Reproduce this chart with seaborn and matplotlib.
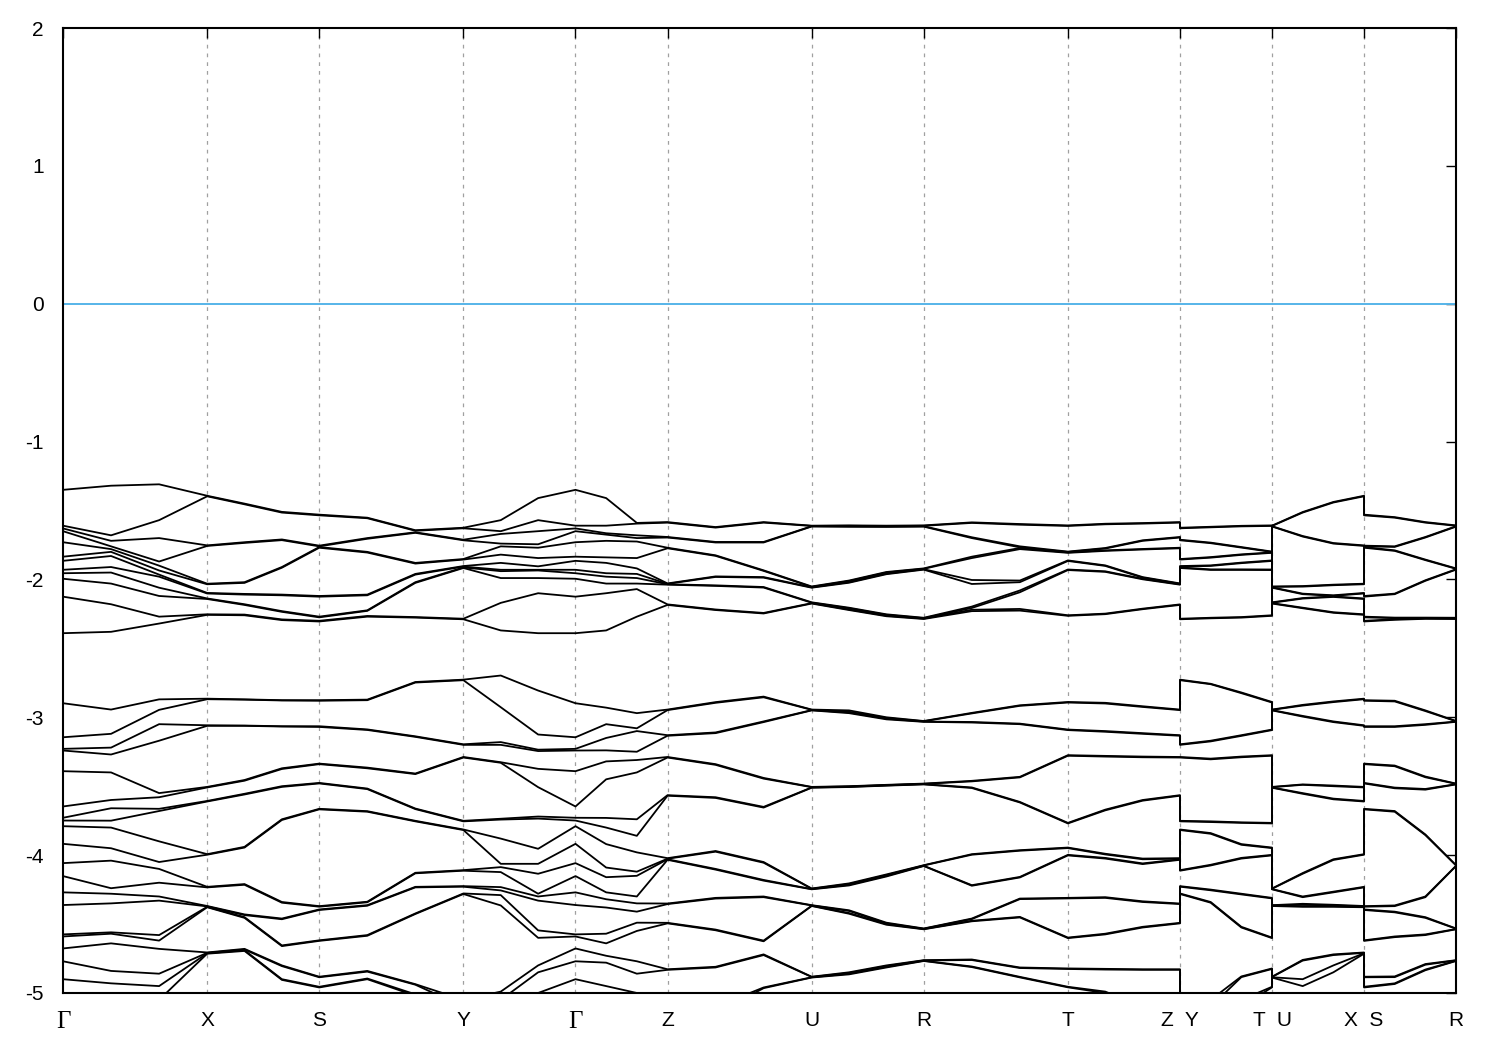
import numpy as np
import pandas as pd
import seaborn as sns
import matplotlib.pyplot as plt

# half lengths of the three reciprocal vectors (units of the k axis)
b1, b2, b3 = 1.034, 0.804, 0.660

# k-path: start point, end point, name of the interior columns, length
path = [("Γ", "X", "GX", b1), ("X", "S", "XS", b2), ("S", "Y", "SY", b1),
        ("Y", "Γ", "YG", b2), ("Γ", "Z", "GZ", b3), ("Z", "U", "ZU", b1),
        ("U", "R", "UR", b2), ("R", "T", "RT", b1), ("T", "Z", "TZ", b2),
        ("Y", "T", "YT", b3), ("U", "X", "UX", b3), ("S", "R", "SR", b3)]

# ---- upper band group (12 bands), energies in eV, sorted high -> low ----
G_up = [-1.35, -1.61, -1.63, -1.65, -1.73, -1.835, -1.865, -1.93, -1.955, -1.995, -2.125, -2.39]
X_up = [-1.393, -1.397, -1.753, -1.757, -2.031, -2.035, -2.098, -2.102, -2.138, -2.142, -2.253, -2.257]
S_up = [-1.53, -1.535, -1.755, -1.76, -1.765, -1.77, -2.12, -2.125, -2.27, -2.275, -2.30, -2.305]
Y_up = [-1.625, -1.629, -1.712, -1.716, -1.852, -1.856, -1.903, -1.907, -1.913, -1.917, -2.285, -2.289]
Z_up = [-1.584, -1.588, -1.692, -1.696, -1.77, -1.774, -2.029, -2.032, -2.035, -2.038, -2.181, -2.185]
U_up = [-1.61, -1.612, -1.614, -1.616, -2.051, -2.054, -2.057, -2.06, -2.166, -2.169, -2.172, -2.175]
R_up = [-1.608, -1.611, -1.614, -1.617, -1.92, -1.923, -1.926, -1.929, -2.278, -2.281, -2.284, -2.287]
T_up = [-1.608, -1.612, -1.798, -1.801, -1.804, -1.807, -1.862, -1.866, -1.928, -1.932, -2.26, -2.264]

GX_up = [[-1.32, -1.68, -1.72, -1.76, -1.78, -1.80, -1.83, -1.91, -1.95, -2.03, -2.18, -2.38],
         [-1.31, -1.57, -1.70, -1.87, -1.90, -1.935, -1.965, -1.98, -2.06, -2.12, -2.27, -2.32]]
XS_up = [[-1.45, -1.455, -1.73, -1.735, -2.02, -2.025, -2.105, -2.11, -2.18, -2.185, -2.255, -2.26],
         [-1.51, -1.515, -1.71, -1.715, -1.91, -1.915, -2.11, -2.115, -2.23, -2.235, -2.29, -2.295]]
SY_up = [[-1.552, -1.556, -1.70, -1.705, -1.80, -1.805, -2.11, -2.115, -2.224, -2.228, -2.265, -2.27],
         [-1.643, -1.647, -1.658, -1.662, -1.88, -1.885, -1.96, -1.965, -2.02, -2.025, -2.273, -2.277]]
YG_up = [[-1.57, -1.65, -1.67, -1.74, -1.76, -1.82, -1.88, -1.93, -1.94, -1.99, -2.17, -2.37],
         [-1.41, -1.57, -1.65, -1.745, -1.77, -1.845, -1.905, -1.93, -1.935, -1.99, -2.10, -2.39]]
GZ_up = [[-1.41, -1.61, -1.665, -1.675, -1.72, -1.84, -1.88, -1.955, -1.98, -2.03, -2.10, -2.37],
         [-1.59, -1.595, -1.68, -1.70, -1.725, -1.845, -1.92, -1.96, -1.99, -2.03, -2.07, -2.27]]
ZU_up = [[-1.62, -1.624, -1.728, -1.732, -1.825, -1.829, -1.978, -1.982, -2.043, -2.047, -2.218, -2.222],
         [-1.584, -1.588, -1.728, -1.732, -1.934, -1.938, -1.983, -1.987, -2.055, -2.059, -2.243, -2.247]]
UR_up = [[-1.608, -1.611, -1.615, -1.618, -2.008, -2.012, -2.02, -2.024, -2.205, -2.209, -2.218, -2.222],
         [-1.61, -1.613, -1.616, -1.619, -1.946, -1.95, -1.958, -1.962, -2.253, -2.257, -2.263, -2.267]]
RT_up = [[-1.586, -1.59, -1.694, -1.70, -1.835, -1.845, -2.004, -2.033, -2.197, -2.207, -2.22, -2.23],
         [-1.598, -1.603, -1.76, -1.767, -1.772, -1.78, -2.008, -2.02, -2.08, -2.093, -2.214, -2.226]]
TZ_up = [[-1.596, -1.6, -1.772, -1.776, -1.789, -1.793, -1.898, -1.902, -1.941, -1.945, -2.248, -2.252],
         [-1.591, -1.595, -1.716, -1.72, -1.779, -1.783, -1.983, -1.987, -1.995, -1.999, -2.212, -2.216]]
YT_up = [[-1.618, -1.622, -1.733, -1.737, -1.838, -1.842, -1.898, -1.902, -1.927, -1.931, -2.278, -2.282],
         [-1.611, -1.615, -1.765, -1.769, -1.818, -1.822, -1.878, -1.882, -1.927, -1.931, -2.273, -2.277]]
UX_up = [[-1.511, -1.515, -1.685, -1.689, -2.048, -2.052, -2.103, -2.107, -2.135, -2.139, -2.205, -2.209],
         [-1.438, -1.442, -1.736, -1.74, -2.038, -2.042, -2.115, -2.119, -2.123, -2.127, -2.238, -2.242]]
SR_up = [[-1.548, -1.552, -1.76, -1.764, -1.789, -1.793, -2.103, -2.107, -2.277, -2.281, -2.289, -2.293],
         [-1.584, -1.588, -1.692, -1.696, -1.856, -1.86, -2.006, -2.01, -2.277, -2.281, -2.282, -2.286]]

# ---- lower band group (22 bands, the last ones run below the frame) ----
G_lo = [-2.898, -3.145, -3.229, -3.241, -3.391, -3.647, -3.729, -3.749, -3.79, -3.918, -4.058,
        -4.152, -4.27, -4.362, -4.575, -4.59, -4.677, -4.77, -4.90, -5.10, -5.20, -5.30]
X_lo = [-2.865, -2.869, -3.058, -3.062, -3.505, -3.509, -3.607, -3.611, -3.993, -3.997, -4.23,
        -4.234, -4.369, -4.372, -4.375, -4.378, -4.706, -4.709, -4.712, -4.715, -5.2, -5.3]
S_lo = [-2.876, -2.88, -3.065, -3.07, -3.336, -3.34, -3.476, -3.48, -3.664, -3.668, -4.37,
        -4.374, -4.394, -4.398, -4.618, -4.622, -4.882, -4.886, -4.955, -4.96, -5.2, -5.3]
Y_lo = [-2.727, -2.731, -3.196, -3.2, -3.288, -3.292, -3.751, -3.755, -3.814, -3.818, -4.109,
        -4.113, -4.225, -4.229, -4.278, -4.282, -5.05, -5.1, -5.15, -5.2, -5.25, -5.3]
Z_lo = [-2.944, -2.948, -3.13, -3.134, -3.288, -3.292, -3.565, -3.569, -4.022, -4.026, -4.03,
        -4.034, -4.351, -4.355, -4.491, -4.495, -4.828, -4.832, -5.1, -5.2, -5.25, -5.3]
U_lo = [-2.944, -2.946, -2.948, -2.95, -3.505, -3.507, -3.509, -3.511, -4.242, -4.244, -4.246,
        -4.248, -4.363, -4.365, -4.367, -4.369, -4.882, -4.884, -4.886, -4.888, -5.2, -5.3]
R_lo = [-3.027, -3.029, -3.031, -3.033, -3.481, -3.483, -3.485, -3.487, -4.073, -4.075, -4.077,
        -4.079, -4.532, -4.534, -4.536, -4.538, -4.762, -4.764, -4.766, -4.768, -5.2, -5.3]
T_lo = [-2.889, -2.893, -3.089, -3.093, -3.275, -3.279, -3.766, -3.77, -3.945, -3.949, -3.998,
        -4.002, -4.31, -4.314, -4.598, -4.602, -4.822, -4.826, -4.955, -4.959, -5.2, -5.3]

GX_lo = [[-2.944, -3.12, -3.22, -3.27, -3.40, -3.60, -3.66, -3.75, -3.80, -3.95, -4.04,
          -4.24, -4.28, -4.35, -4.56, -4.57, -4.64, -4.84, -4.93, -5.10, -5.20, -5.30],
         [-2.87, -2.946, -3.05, -3.17, -3.55, -3.58, -3.664, -3.68, -3.90, -4.05, -4.10,
          -4.20, -4.30, -4.33, -4.58, -4.62, -4.68, -4.86, -4.95, -5.05, -5.22, -5.32]]
XS_lo = [[-2.87, -2.872, -3.06, -3.062, -3.455, -3.46, -3.555, -3.56, -3.94, -3.945, -4.21,
          -4.215, -4.43, -4.435, -4.45, -4.455, -4.68, -4.685, -4.69, -4.695, -5.2, -5.3],
         [-2.876, -2.878, -3.065, -3.067, -3.37, -3.375, -3.50, -3.505, -3.74, -3.745, -4.34,
          -4.345, -4.46, -4.465, -4.655, -4.66, -4.80, -4.805, -4.90, -4.905, -5.2, -5.3]]
SY_lo = [[-2.872, -2.876, -3.088, -3.092, -3.365, -3.37, -3.517, -3.521, -3.681, -3.685, -4.338,
          -4.342, -4.363, -4.367, -4.58, -4.585, -4.84, -4.845, -4.895, -4.9, -5.2, -5.3],
         [-2.744, -2.748, -3.138, -3.142, -3.408, -3.412, -3.662, -3.666, -3.751, -3.755, -4.128,
          -4.132, -4.23, -4.234, -4.423, -4.427, -4.936, -4.94, -5.01, -5.02, -5.2, -5.3]]
YG_lo = [[-2.697, -2.927, -3.18, -3.2, -3.326, -3.33, -3.736, -3.742, -3.88, -4.063, -4.087,
          -4.123, -4.232, -4.256, -4.29, -4.365, -4.99, -5.05, -5.1, -5.2, -5.25, -5.3],
         [-2.806, -3.125, -3.235, -3.245, -3.374, -3.507, -3.72, -3.735, -3.954, -4.063, -4.135,
          -4.28, -4.30, -4.33, -4.546, -4.60, -4.80, -4.85, -5.0, -5.1, -5.2, -5.3]]
GZ_lo = [[-2.93, -3.05, -3.15, -3.24, -3.32, -3.45, -3.73, -3.80, -3.92, -4.09, -4.16,
          -4.27, -4.32, -4.38, -4.57, -4.64, -4.73, -4.78, -4.95, -5.1, -5.2, -5.3],
         [-2.97, -3.08, -3.10, -3.25, -3.31, -3.40, -3.74, -3.86, -3.98, -4.12, -4.15,
          -4.30, -4.35, -4.41, -4.49, -4.55, -4.77, -4.86, -5.0, -5.1, -5.2, -5.3]]
ZU_lo = [[-2.89, -2.895, -3.11, -3.115, -3.34, -3.345, -3.58, -3.585, -3.97, -3.975, -4.10,
          -4.105, -4.31, -4.315, -4.54, -4.545, -4.81, -4.815, -5.1, -5.15, -5.2, -5.3],
         [-2.85, -2.855, -3.03, -3.035, -3.44, -3.445, -3.65, -3.655, -4.05, -4.055, -4.18,
          -4.185, -4.30, -4.305, -4.62, -4.625, -4.72, -4.725, -4.96, -4.965, -5.2, -5.3]]
UR_lo = [[-2.95, -2.96, -2.965, -2.97, -3.50, -3.502, -3.504, -3.506, -4.205, -4.21, -4.215,
          -4.22, -4.40, -4.405, -4.42, -4.425, -4.85, -4.855, -4.86, -4.865, -5.2, -5.3],
         [-3.00, -3.005, -3.01, -3.015, -3.49, -3.492, -3.494, -3.496, -4.14, -4.145, -4.15,
          -4.155, -4.49, -4.495, -4.50, -4.505, -4.80, -4.805, -4.81, -4.815, -5.2, -5.3]]
RT_lo = [[-2.968, -2.972, -3.034, -3.038, -3.461, -3.465, -3.509, -3.513, -3.993, -3.997, -4.218,
          -4.222, -4.46, -4.464, -4.476, -4.48, -4.757, -4.761, -4.808, -4.812, -5.2, -5.3],
         [-2.913, -2.917, -3.046, -3.05, -3.432, -3.436, -3.614, -3.618, -3.964, -3.968, -4.158,
          -4.162, -4.315, -4.319, -4.448, -4.452, -4.815, -4.819, -4.883, -4.887, -5.2, -5.3]]
TZ_lo = [[-2.895, -2.9, -3.1, -3.105, -3.28, -3.285, -3.67, -3.675, -3.99, -3.995, -4.02,
          -4.025, -4.305, -4.31, -4.57, -4.575, -4.825, -4.83, -4.99, -5.0, -5.2, -5.3],
         [-2.92, -2.925, -3.115, -3.12, -3.285, -3.29, -3.60, -3.605, -4.025, -4.03, -4.06,
          -4.065, -4.335, -4.34, -4.52, -4.525, -4.828, -4.832, -5.1, -5.15, -5.2, -5.3]]
YT_lo = [[-2.757, -2.76, -3.17, -3.175, -3.3, -3.305, -3.755, -3.76, -3.84, -3.845, -4.07,
          -4.075, -4.25, -4.255, -4.34, -4.345, -5.05, -5.1, -5.15, -5.2, -5.25, -5.3],
         [-2.82, -2.825, -3.13, -3.135, -3.285, -3.29, -3.762, -3.766, -3.92, -3.925, -4.02,
          -4.025, -4.28, -4.285, -4.52, -4.525, -4.88, -4.885, -5.05, -5.1, -5.2, -5.3]]
UX_lo = [[-2.91, -2.915, -2.99, -2.995, -3.487, -3.49, -3.55, -3.555, -4.13, -4.135, -4.30,
          -4.305, -4.353, -4.36, -4.37, -4.375, -4.76, -4.765, -4.90, -4.95, -5.2, -5.3],
         [-2.885, -2.89, -3.03, -3.035, -3.495, -3.5, -3.59, -3.595, -4.03, -4.035, -4.265,
          -4.27, -4.36, -4.365, -4.37, -4.375, -4.72, -4.725, -4.80, -4.85, -5.2, -5.3]]
SR_lo = [[-2.88, -2.885, -3.065, -3.07, -3.35, -3.355, -3.51, -3.515, -3.68, -3.685, -4.365,
          -4.37, -4.41, -4.415, -4.59, -4.595, -4.88, -4.885, -4.93, -4.935, -5.2, -5.3],
         [-2.95, -2.955, -3.05, -3.055, -3.43, -3.435, -3.52, -3.525, -3.85, -3.855, -4.30,
          -4.305, -4.45, -4.455, -4.575, -4.58, -4.79, -4.795, -4.83, -4.835, -5.2, -5.3]]

up_pts = {"Γ": G_up, "X": X_up, "S": S_up, "Y": Y_up, "Z": Z_up, "U": U_up, "R": R_up, "T": T_up}
lo_pts = {"Γ": G_lo, "X": X_lo, "S": S_lo, "Y": Y_lo, "Z": Z_lo, "U": U_lo, "R": R_lo, "T": T_lo}
up_mid = {"GX": GX_up, "XS": XS_up, "SY": SY_up, "YG": YG_up, "GZ": GZ_up, "ZU": ZU_up,
          "UR": UR_up, "RT": RT_up, "TZ": TZ_up, "YT": YT_up, "UX": UX_up, "SR": SR_up}
lo_mid = {"GX": GX_lo, "XS": XS_lo, "SY": SY_lo, "YG": YG_lo, "GZ": GZ_lo, "ZU": ZU_lo,
          "UR": UR_lo, "RT": RT_lo, "TZ": TZ_lo, "YT": YT_lo, "UX": UX_lo, "SR": SR_lo}

# assemble the columns along the path (a break repeats k -> vertical jump)
ks, cols_up, cols_lo = [], [], []
tick_k, tick_lab = [], []
k, prev = 0.0, None
for start, end, name, L in path:
    if start != prev:
        if prev is None:
            tick_k.append(k); tick_lab.append(start)
        else:
            tick_lab[-1] = prev + "  " + start
        ks.append(k); cols_up.append(up_pts[start]); cols_lo.append(lo_pts[start])
    n = len(up_mid[name])
    for j in range(n):
        ks.append(k + (j + 1) / (n + 1) * L)
        cols_up.append(up_mid[name][j]); cols_lo.append(lo_mid[name][j])
    k += L
    ks.append(k); cols_up.append(up_pts[end]); cols_lo.append(lo_pts[end])
    tick_k.append(k); tick_lab.append(end)
    prev = end

rows = []
for grp, cols in (("u", cols_up), ("l", cols_lo)):
    arr = np.array(cols)
    for b in range(arr.shape[1]):
        for kk, e in zip(ks, arr[:, b]):
            rows.append((kk, e, f"{grp}{b}"))
df = pd.DataFrame(rows, columns=["k", "E", "band"])

sns.set_theme(style="white")
plt.rcParams["font.family"] = ["Liberation Sans", "DejaVu Sans"]
plt.rcParams["axes.unicode_minus"] = False

fig = plt.figure(figsize=(15, 10.5), dpi=100)
ax = fig.add_axes([0.042, 0.0543, 0.9287, 0.919])

for kt in tick_k[1:-1]:
    ax.axvline(kt, color="#a0a0a0", lw=0.9, ls=(0, (3, 4)), zorder=0)
ax.axhline(0, color="#56b4e9", lw=1.4, zorder=1)

sns.lineplot(data=df, x="k", y="E", units="band", estimator=None, sort=False,
             color="black", linewidth=1.3, ax=ax, legend=False)

ax.set_xlim(0, tick_k[-1])
ax.set_ylim(-5, 2)
ax.set_yticks(range(-5, 3))
ax.set_yticklabels([str(v) for v in range(-5, 3)])
ax.set_xticks(tick_k)
ax.set_xticklabels(tick_lab)
ax.set_xlabel("")
ax.set_ylabel("")
ax.tick_params(axis="both", direction="in", length=7, width=1.0, labelsize=15,
               top=True, right=True, color="black", labelcolor="black")
ax.tick_params(axis="y", pad=14)
ax.tick_params(axis="x", pad=13)
for lab in ax.get_xticklabels():
    if lab.get_text() == "Γ":
        lab.set_fontfamily(["Liberation Serif", "DejaVu Serif"])
        lab.set_fontsize(18)
for sp in ax.spines.values():
    sp.set_color("black")
    sp.set_linewidth(1.5)

fig.savefig("out.png", dpi=100)
